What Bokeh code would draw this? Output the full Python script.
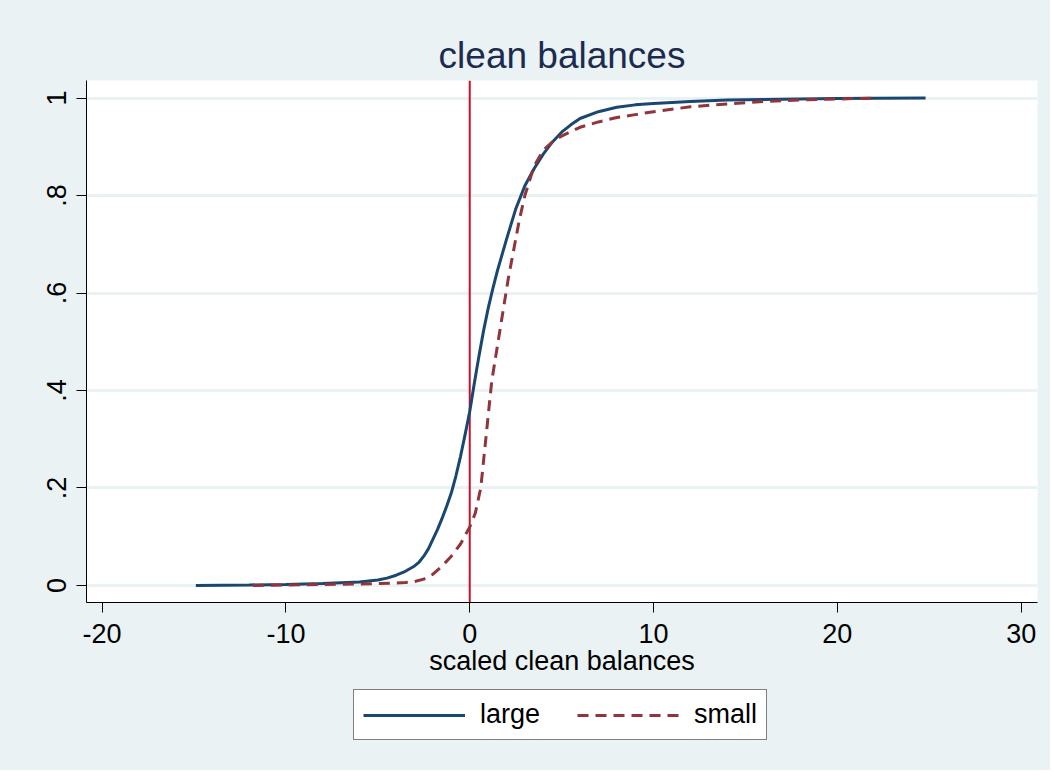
from bokeh.plotting import figure
from bokeh.layouts import column
from bokeh.models import (Range1d, FixedTicker, Span, Legend, LegendItem)
from bokeh.embed import file_html
from bokeh.resources import INLINE

# ---- data ----
large_x = [-14.9, -12, -10, -8, -6, -5, -4.5, -4, -3.5, -3, -2.75, -2.5, -2.25,
           -2, -1.75, -1.5, -1.25, -1, -0.75, -0.5, -0.25, 0, 0.25, 0.5, 0.75,
           1, 1.25, 1.5, 2, 2.5, 3, 3.5, 4, 4.5, 5, 5.5, 6, 7, 8, 9,
           10, 12, 14, 16, 18, 20, 22, 24.8]
large_y = [0.0, 0.001, 0.002, 0.004, 0.007, 0.011, 0.015, 0.021, 0.029, 0.04,
           0.048, 0.06, 0.075, 0.095, 0.115, 0.138, 0.163, 0.19, 0.225, 0.265,
           0.31, 0.357, 0.415, 0.47, 0.522, 0.568, 0.608, 0.645, 0.71,
           0.772, 0.82, 0.855, 0.885, 0.91, 0.93, 0.945, 0.958, 0.972, 0.981,
           0.986, 0.989, 0.993, 0.996, 0.997, 0.998, 0.999, 0.9995, 1.0]

small_x = [-11.8, -10, -8, -6, -5, -4, -3.5, -3, -2.5, -2, -1.5, -1, -0.5, 0,
           0.3, 0.6, 0.9, 1.2, 1.5, 1.8, 2.1, 2.4, 2.7, 3.0, 3.5, 4, 4.5, 5,
           6, 7, 8, 9, 10, 12, 14, 16, 18, 20, 22.1]
small_y = [0.0, 0.001, 0.002, 0.003, 0.004, 0.005, 0.006, 0.008, 0.013, 0.023,
           0.04, 0.06, 0.085, 0.12, 0.148, 0.2, 0.31, 0.42, 0.49, 0.56, 0.63,
           0.69, 0.75, 0.8, 0.86, 0.893, 0.91, 0.922, 0.94, 0.951, 0.96, 0.966,
           0.972, 0.982, 0.988, 0.993, 0.996, 0.998, 1.0]

x_ticks = [-20, -10, 0, 10, 20, 30]
x_tick_labels = ["-20", "-10", "0", "10", "20", "30"]
y_ticks = [0, 0.2, 0.4, 0.6, 0.8, 1.0]
y_tick_labels = ["0", ".2", ".4", ".6", ".8", "1"]
series_names = ["large", "small"]
ref_line_x = 0

BG = "#EAF2F3"
FONT = "Liberation Sans"
LARGE_STYLE = dict(line_color="#1A476F", line_width=3)
SMALL_STYLE = dict(line_color="#90353B", line_width=3, line_dash="11 7")

W = 1050
LEFT, FRAME_W = 86, 951
RIGHT = W - LEFT - FRAME_W
TOP, FRAME_H, BOT = 80, 522, 85

p = figure(frame_width=FRAME_W, frame_height=FRAME_H, output_backend="svg",
           toolbar_location=None,
           x_range=Range1d(-20.85, 30.89), y_range=Range1d(-0.035, 1.036),
           min_border_left=LEFT, min_border_right=RIGHT,
           min_border_top=TOP, min_border_bottom=BOT)
p.background_fill_color = "white"
p.border_fill_color = BG
p.outline_line_color = None

p.title.text = "clean balances"
p.title.align = "center"
p.title.text_font = FONT
p.title.text_font_size = "37px"
p.title.text_font_style = "normal"
p.title.text_color = "#1c2b50"
p.title.standoff = 9

# axes
for ax in (p.xaxis[0], p.yaxis[0]):
    ax.axis_line_color = "black"
    ax.axis_line_width = 1
    ax.major_tick_line_color = "black"
    ax.major_tick_out = 10
    ax.major_tick_in = 0
    ax.minor_tick_line_color = None
    ax.major_label_text_font = FONT
    ax.major_label_text_font_size = "27px"
    ax.major_label_text_color = "black"

p.xaxis.ticker = FixedTicker(ticks=x_ticks)
p.xaxis.major_label_overrides = {t: l for t, l in zip(x_ticks, x_tick_labels)}
p.xaxis.axis_label = "scaled clean balances"
p.xaxis.axis_label_text_font = FONT
p.xaxis.axis_label_text_font_size = "27px"
p.xaxis.axis_label_text_font_style = "normal"
p.xaxis.axis_label_text_color = "black"
p.xaxis.axis_label_standoff = 0
p.xaxis.major_label_standoff = 11

p.yaxis.ticker = FixedTicker(ticks=y_ticks)
p.yaxis.major_label_overrides = {t: l for t, l in zip(y_ticks, y_tick_labels)}
p.yaxis.major_label_orientation = "vertical"
p.yaxis.major_label_standoff = 10

p.xgrid.grid_line_color = None
p.ygrid.ticker = FixedTicker(ticks=y_ticks)
p.ygrid.grid_line_color = BG
p.ygrid.grid_line_width = 3

vline = Span(location=ref_line_x, dimension="height", line_color="#C8102E",
             line_width=2, level="underlay")
p.add_layout(vline)

p.line(large_x, large_y, **LARGE_STYLE)
p.line(small_x, small_y, **SMALL_STYLE)

# ---- legend strip below the chart ----
H2 = 770 - (TOP + FRAME_H + BOT)
p2 = figure(frame_width=FRAME_W, frame_height=H2, output_backend="svg",
            toolbar_location=None, x_axis_type=None, y_axis_type=None,
            x_range=Range1d(0, 1), y_range=Range1d(0, 1),
            min_border_left=LEFT, min_border_right=RIGHT,
            min_border_top=0, min_border_bottom=0)
p2.background_fill_color = BG
p2.border_fill_color = BG
p2.outline_line_color = None
p2.grid.visible = False
# legend-key renderers: the same styles as the chart lines, data kept outside
# the visible range so only their legend keys appear
key_x = [series_names.index("large") + 5, series_names.index("small") + 5]
lr = p2.line(x=key_x, y=key_x, **LARGE_STYLE)
sr = p2.line(x=key_x, y=key_x, **SMALL_STYLE)

legend = Legend(items=[LegendItem(label=series_names[0], renderers=[lr]),
                       LegendItem(label=series_names[1], renderers=[sr])],
                orientation="horizontal", location=(353 - LEFT, H2 - 53))
legend.label_text_font = FONT
legend.label_text_font_size = "27px"
legend.label_text_color = "black"
legend.glyph_width = 102
legend.glyph_height = 28
legend.label_standoff = 15
legend.spacing = 37
legend.padding = 9
legend.margin = 0
legend.border_line_color = "black"
legend.border_line_width = 1
legend.background_fill_color = "white"
legend.background_fill_alpha = 1.0
p2.add_layout(legend)

layout = column(p, p2, spacing=0, styles={"background-color": BG})
open("out.html", "w").write(file_html(layout, INLINE))
